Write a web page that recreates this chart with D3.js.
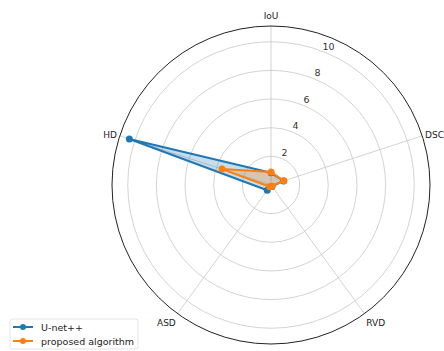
<!DOCTYPE html>
<html>
<head>
<meta charset="utf-8">
<script src="https://cdn.jsdelivr.net/npm/d3@7"></script>
<style>
  body { margin: 0; background: #fff; }
  svg { display: block; font-family: "DejaVu Sans", sans-serif; }
</style>
</head>
<body>
<svg id="chart" width="444" height="351"></svg>
<script>
// data
var categories = ["IoU", "DSC", "RVD", "ASD", "HD"];
var unetValues = [0.85, 0.92, 0.12, 0.45, 10.4];
var proposedValues = [0.9, 0.95, 0.1, 0.15, 3.6];
var rTicks = [2, 4, 6, 8, 10];
var seriesNames = ["U-net++", "proposed algorithm"];
var seriesColors = ["#1f77b4", "#ff7f0e"];

var cx = 271, cy = 185, R = 159;
var svg = d3.select("#chart");
var g = svg.append("g").attr("transform", "translate(" + cx + "," + cy + ")");

var r = d3.scaleLinear().domain([0, 11.1]).range([0, R]);
var angle = d3.scaleLinear().domain([0, categories.length]).range([0, 2 * Math.PI]);

// x,y from d3-style angle (0 = top, clockwise)
function px(a, rad) { return Math.sin(a) * rad; }
function py(a, rad) { return -Math.cos(a) * rad; }

//#region grid
g.selectAll(".ring").data(rTicks).enter().append("circle")
    .attr("r", function(d){ return r(d); })
    .style("fill", "none")
    .style("stroke", "#c8c8c8")
    .style("stroke-width", "0.8px");

g.selectAll(".spoke").data(categories).enter().append("line")
    .attr("x1", 0).attr("y1", 0)
    .attr("x2", function(d, i){ return px(angle(i), R); })
    .attr("y2", function(d, i){ return py(angle(i), R); })
    .style("stroke", "#c8c8c8")
    .style("stroke-width", "0.8px");

g.append("circle")
    .attr("r", R)
    .style("fill", "none")
    .style("stroke", "#222")
    .style("stroke-width", "1px");

// radial tick labels at 22.5deg
var labA = 22.5 * Math.PI / 180;
g.selectAll(".rlab").data(rTicks).enter().append("text")
    .attr("x", function(d){ return px(labA, r(d) + 7); })
    .attr("y", function(d){ return py(labA, r(d) + 7); })
    .attr("text-anchor", "middle")
    .attr("dominant-baseline", "central")
    .style("font-size", "9.5px")
    .style("fill", "#333")
    .text(function(d){ return d; });

// category labels
g.selectAll(".clab").data(categories).enter().append("text")
    .attr("x", function(d, i){ return px(angle(i), R + 3); })
    .attr("y", function(d, i){ return py(angle(i), R + 3); })
    .attr("text-anchor", function(d, i){
        var s = Math.sin(angle(i));
        return s > 0.1 ? "start" : (s < -0.1 ? "end" : "middle");
    })
    .attr("dy", function(d, i){
        var c = Math.cos(angle(i));
        return c > 0.5 ? "-0.5em" : (c < -0.5 ? "1.1em" : "0.35em");
    })
    .style("font-size", "9px")
    .style("fill", "#222")
    .text(function(d){ return d; });

//#region series
var line = d3.lineRadial()
    .angle(function(d, i){ return angle(i); })
    .radius(function(d){ return r(d); })
    .curve(d3.curveLinearClosed);

[unetValues, proposedValues].forEach(function(vals, k){
    var col = seriesColors[k];
    g.append("path")
        .attr("d", line(vals))
        .style("fill", col)
        .style("fill-opacity", 0.25)
        .style("stroke", col)
        .style("stroke-width", "2px")
        .style("stroke-linejoin", "round");
    g.selectAll(".pt" + k).data(vals).enter().append("circle")
        .attr("cx", function(d, i){ return px(angle(i), r(d)); })
        .attr("cy", function(d, i){ return py(angle(i), r(d)); })
        .attr("r", 3.5)
        .style("fill", col);
});

//#region legend
var leg = svg.append("g").attr("transform", "translate(10,319)");
leg.append("rect")
    .attr("width", 128).attr("height", 30)
    .attr("rx", 2)
    .style("fill", "#fff")
    .style("fill-opacity", 0.8)
    .style("stroke", "#ddd")
    .style("stroke-width", "0.8px");

seriesNames.forEach(function(name, k){
    var y = 8 + k * 14;
    leg.append("line")
        .attr("x1", 3).attr("x2", 23)
        .attr("y1", y).attr("y2", y)
        .style("stroke", seriesColors[k])
        .style("stroke-width", "2px");
    leg.append("circle")
        .attr("cx", 13).attr("cy", y).attr("r", 3)
        .style("fill", seriesColors[k]);
    leg.append("text")
        .attr("x", 31).attr("y", y)
        .attr("dominant-baseline", "central")
        .style("font-size", "9.5px")
        .style("fill", "#222")
        .text(name);
});
</script>
</body>
</html>
